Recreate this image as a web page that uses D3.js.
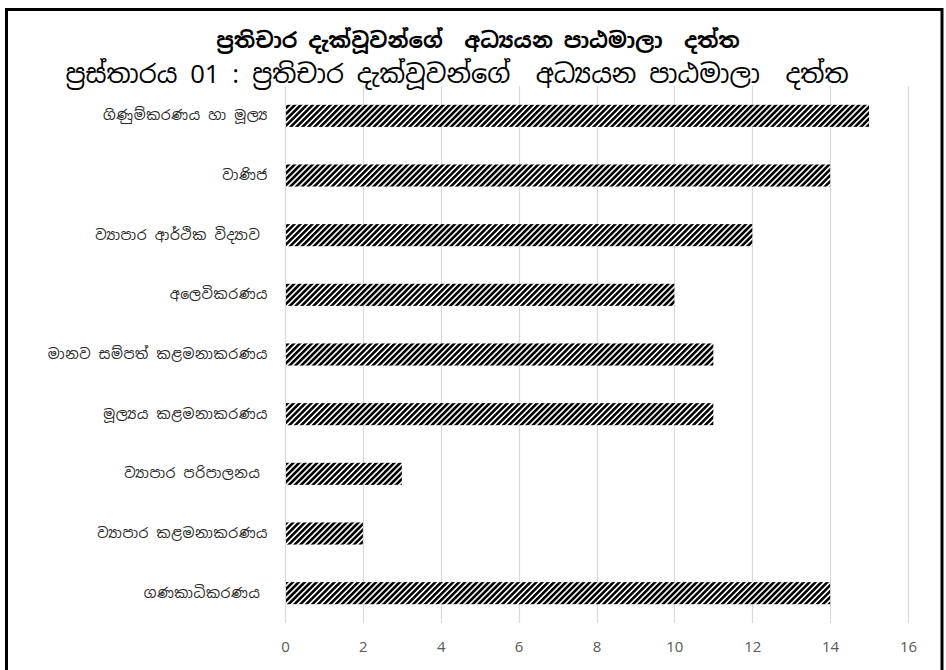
<!DOCTYPE html>
<html>
<head>
<meta charset="utf-8">
<script src="https://cdn.jsdelivr.net/npm/d3@7"></script>
<style>
html,body{margin:0;padding:0;background:#fff;}
svg{display:block;}
</style>
</head>
<body>
<svg id="chart" width="946" height="670"></svg>
<script>
const categories = [
  "ගිණුම්කරණය හා මූල්‍ය",
  "වාණිජ",
  "ව්‍යාපාර ආර්ථික විද්‍යාව ",
  "අලෙවිකරණය",
  "මානව සම්පත් කළමනාකරණය",
  "මූල්‍යය කළමනාකරණය",
  "ව්‍යාපාර පරිපාලනය ",
  "ව්‍යාපාර කළමනාකරණය",
  "ගණකාධිකරණය "
];
const values = [15, 14, 12, 10, 11, 11, 3, 2, 14];
const xTicks = [0, 2, 4, 6, 8, 10, 12, 14, 16];
const titleMain = "ප්‍රතිචාර දැක්වූවන්ගේ  අධ්‍යයන පාඨමාලා  දත්ත";
const titleSub = "ප්‍රස්තාරය 01 : ප්‍රතිචාර දැක්වූවන්ගේ  අධ්‍යයන පාඨමාලා  දත්ත";

const svg = d3.select("#chart");

// frame
svg.append("rect").attr("x", 6.5).attr("y", 9.5).attr("width", 935.5).attr("height", 665)
  .attr("fill", "#fff").attr("stroke", "#000").attr("stroke-width", 3);

// hatch pattern
const defs = svg.append("defs");
const pat = defs.append("pattern").attr("id", "hatch")
  .attr("patternUnits", "userSpaceOnUse").attr("width", 4.2).attr("height", 4.2)
  .attr("patternTransform", "rotate(45)");
pat.append("rect").attr("width", 4.2).attr("height", 4.2).attr("fill", "#fff");
pat.append("rect").attr("x", 0).attr("y", 0).attr("width", 2.6).attr("height", 4.2).attr("fill", "#000");

const x = d3.scaleLinear().domain([0, 16]).range([285, 908]);
const y = d3.scaleBand().domain(categories).range([86, 623]).paddingInner(0.63).paddingOuter(0.315);

// gridlines
svg.append("g").selectAll("line").data(xTicks).join("line")
  .attr("x1", d => Math.round(x(d)) + 0.5).attr("x2", d => Math.round(x(d)) + 0.5)
  .attr("y1", 86).attr("y2", 623)
  .attr("stroke", "#d9d9d9").attr("stroke-width", 1.2);

// bars
svg.append("g").selectAll("rect").data(values).join("rect")
  .attr("x", x(0) + 1)
  .attr("y", (d, i) => y(categories[i]))
  .attr("width", d => x(d) - x(0) - 1)
  .attr("height", y.bandwidth())
  .attr("fill", "url(#hatch)");

// x axis tick labels
const xAxis = d3.axisBottom(x).tickValues(xTicks).tickSize(0).tickPadding(0);
const gx = svg.append("g").attr("transform", "translate(0,641)").call(xAxis);
gx.select(".domain").remove();
gx.selectAll("text").attr("fill", "#595959").attr("font-size", 15)
  .attr("font-family", "'Open Sans', 'Liberation Sans', sans-serif");

// y axis category labels
const yAxis = d3.axisLeft(y).tickSize(0).tickPadding(0);
const gy = svg.append("g").attr("transform", "translate(268,0)").call(yAxis);
gy.select(".domain").remove();
gy.selectAll("text").attr("fill", "#262626").attr("font-size", 14)
  .attr("letter-spacing", 0.6)
  .attr("font-family", "'Noto Sans Sinhala', 'Noto Sans', sans-serif")
  .style("white-space", "pre");

// titles
svg.append("text").attr("x", 478).attr("y", 48).attr("text-anchor", "middle")
  .attr("font-size", 21.5).attr("font-weight", "bold").attr("fill", "#000")
  .attr("font-family", "'Noto Sans Sinhala', 'Noto Sans', sans-serif")
  .style("white-space", "pre").text(titleMain);
svg.append("text").attr("x", 457).attr("y", 83).attr("text-anchor", "middle")
  .attr("font-size", 25.5).attr("fill", "#000")
  .attr("font-family", "'Noto Sans Sinhala', 'Noto Sans', sans-serif")
  .style("white-space", "pre").text(titleSub);
</script>
</body>
</html>
